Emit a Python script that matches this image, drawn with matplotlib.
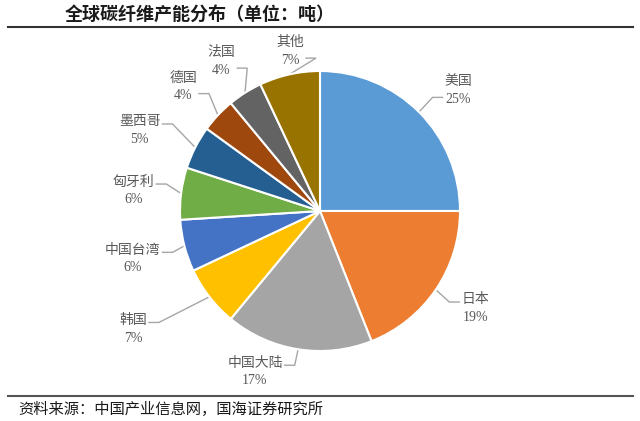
import numpy as np
import matplotlib
matplotlib.use("Agg")
import matplotlib.pyplot as plt

plt.rcParams['font.family'] = ['Liberation Serif', 'Noto Sans CJK SC', 'DejaVu Sans']

# data
countries = ['美国', '日本', '中国大陆', '韩国', '中国台湾', '匈牙利', '墨西哥', '德国', '法国', '其他']
shares = [25, 19, 17, 7, 6, 6, 5, 4, 4, 7]
colors = ['#5B9BD5', '#ED7D31', '#A5A5A5', '#FFC000', '#4472C4',
          '#70AD47', '#255E91', '#9E480E', '#636363', '#997300']

# label layout (radius factor, angle tweak in degrees, attach leader to lower line?)
lab_r = [1.31, 1.31, 1.24, 1.58, 1.38, 1.34, 1.41, 1.32, 1.28, 1.16]
lab_da = [-4, 2, -13, -5.5, 0, 1, 3, 1, 1, -2]
attach_low = [True, False, False, False, False, False, False, True, True, True]

W, H = 640, 421
fig = plt.figure(figsize=(W / 100, H / 100), dpi=100)
ax = fig.add_axes([0, 0, 1, 1])

R = 140.0  # pie radius in pixels
cx, cy = 320, 210  # pie centre, pixels from bottom-left

wedges, _ = ax.pie(shares, colors=colors, startangle=90, counterclock=False,
                   radius=1.0, wedgeprops=dict(edgecolor='white', linewidth=1.5))

ax.set_xlim(-cx / R, (W - cx) / R)
ax.set_ylim(-cy / R, (H - cy) / R)
ax.set_aspect('auto')
ax.axis('off')

texts = []
mids = []
for i, w in enumerate(wedges):
    mid = (w.theta1 + w.theta2) / 2.0
    a = np.deg2rad(mid + lab_da[i])
    tx, ty = lab_r[i] * np.cos(a), lab_r[i] * np.sin(a)
    t = ax.text(tx, ty, f'{countries[i]}\n{shares[i]}%', ha='center', va='center',
                fontsize=10, color='#595959', linespacing=1.45)
    texts.append(t)
    mids.append(mid)

# leader lines: short horizontal stub at the label, then straight to the wedge
fig.canvas.draw()
renderer = fig.canvas.get_renderer()
px = 1.0 / R
for i, t in enumerate(texts):
    bb = t.get_window_extent(renderer).transformed(ax.transData.inverted())
    m = np.deg2rad(mids[i])
    ex, ey = 1.0 * np.cos(m), 1.0 * np.sin(m)
    yy = bb.y0 + (0.28 if attach_low[i] else 0.72) * bb.height
    if ex > 0:
        x0 = bb.x0 - 2 * px
        x1 = x0 - 10 * px
    else:
        x0 = bb.x1 + 2 * px
        x1 = x0 + 10 * px
    ax.plot([x0, x1, ex], [yy, yy, ey], color='#A6A6A6', lw=1.0,
            solid_joinstyle='miter', zorder=0.5)

# title, rules and source
fig.text(65 / W, 1 - 14 / H, '全球碳纤维产能分布（单位：吨）', fontsize=13, fontweight='bold',
         color='#1a1a1a', ha='left', va='center', family=['Noto Sans CJK SC'])
fig.add_artist(plt.Line2D([8 / W, 633 / W], [1 - 27 / H, 1 - 27 / H], color='#333333', lw=1.5))
fig.add_artist(plt.Line2D([8 / W, 633 / W], [1 - 396 / H, 1 - 396 / H], color='#555555', lw=1.5))
fig.text(18 / W, 1 - 409 / H, '资料来源：中国产业信息网，国海证券研究所', fontsize=11,
         color='#1a1a1a', ha='left', va='center', family=['Noto Sans CJK SC'])

fig.savefig('out.png', dpi=100)
